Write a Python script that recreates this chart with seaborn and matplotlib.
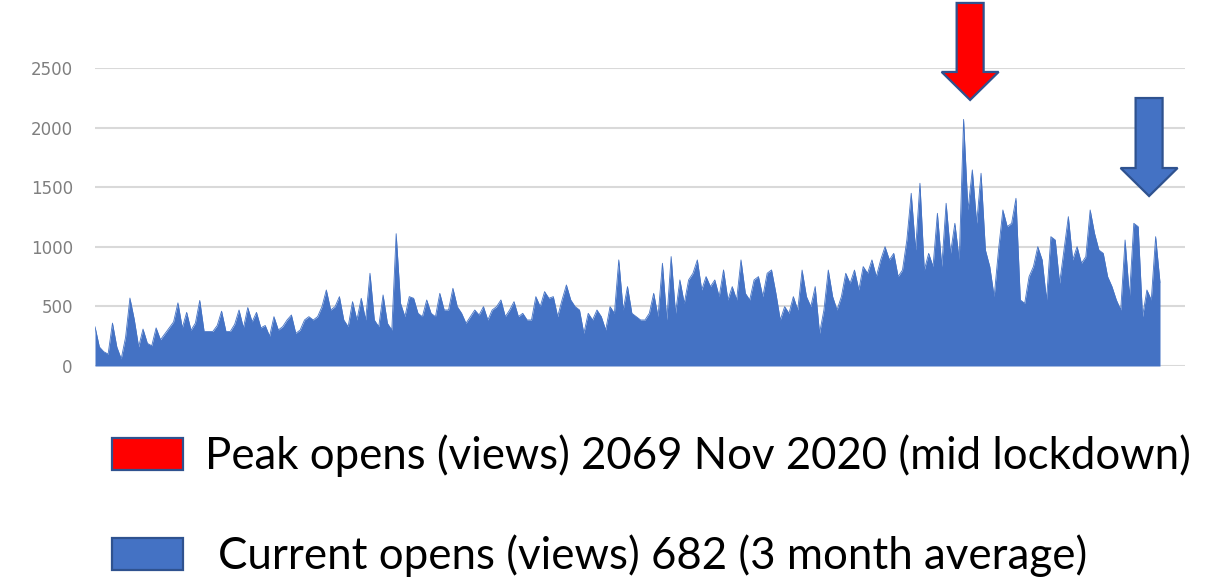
import numpy as np
import pandas as pd
import matplotlib
matplotlib.use("Agg")
import matplotlib.pyplot as plt
from matplotlib.patches import FancyArrow, Rectangle
import seaborn as sns

# daily opens (views), left to right
opens = [
    330, 160, 120, 100, 360, 160, 60, 240, 570, 390, 160, 310, 190, 170, 320, 220,
    270, 320, 370, 530, 320, 450, 300, 360, 550, 290, 290, 290, 340, 460, 290, 290,
    350, 470, 320, 490, 370, 450, 320, 340, 250,
    414, 302, 330, 386, 428, 274, 302, 386, 414, 386, 414, 498, 638, 470, 498, 582,
    386, 330, 540, 386, 568, 386, 778, 386, 330, 596, 358, 302, 1110, 526, 414, 582,
    568, 442, 414, 554, 442, 414, 610, 470,
    470, 652, 498, 442, 358, 414, 470, 428, 498, 386, 470, 498, 554, 414, 470, 540,
    414, 442, 386, 386, 582, 498, 624, 568, 582, 414, 554, 680, 554, 498, 470, 274,
    442, 386, 470, 414, 302, 498,
    442, 890, 470, 666, 442, 414, 386, 386, 442, 610, 414, 862, 386, 918, 442, 722,
    526, 722, 778, 890, 638, 750, 666, 722, 582, 806, 554, 666, 554, 890, 610, 554,
    722, 750, 582, 778, 806, 610, 386, 498, 442, 582, 470,
    805, 582, 498, 666, 274, 470, 805, 582, 470, 582, 778, 694, 805, 638, 834, 778,
    890, 750, 890, 1001, 890, 945, 750, 805, 1057, 1449, 973, 1533, 805, 945, 834, 1281,
    834, 1365, 945, 1197, 890, 2069, 1309, 1645, 1197,
    1617, 973, 834, 582, 973, 1309, 1169, 1197, 1407, 554, 526, 750, 834, 1001, 890, 554,
    1085, 1057, 694, 973, 1253, 890, 1001, 862, 917, 1309, 1113, 973, 945, 750, 666, 554,
    470, 1057, 582, 1197, 1169, 414, 638, 554, 1085, 700,
]
y_ticks = [0, 500, 1000, 1500, 2000, 2500]
legend_labels = ["Peak opens (views) 2069 Nov 2020 (mid lockdown)",
                 "Current opens (views) 682 (3 month average)"]

blue = "#4472C4"
red = "#FF0000"
edge = "#2F528F"

df = pd.DataFrame({"day": np.arange(len(opens)), "opens": opens})

sns.set_style("white")
plt.rcParams["font.family"] = ["DejaVu Sans"]

fig = plt.figure(figsize=(12.09, 5.80), dpi=100)
W, H = 1209, 580
ax = fig.add_axes([95 / W, 1 - 366 / H, (1185 - 95) / W, (366 - 68) / H])

ax.fill_between(df["day"], df["opens"], color=blue, lw=0, zorder=2)
sns.lineplot(data=df, x="day", y="opens", ax=ax, color=blue, lw=0.6, zorder=3)

n = len(opens)
ax.set_xlim(0, (n - 1) * (1185 - 95) / (1160 - 95))
ax.set_ylim(0, 2500)
ax.set_yticks(y_ticks)
ax.set_yticklabels([str(t) for t in y_ticks], color="#7F7F7F", fontsize=12)
ax.tick_params(axis="y", length=0, pad=16)
ax.set_xticks([])
ax.set_xlabel("")
ax.set_ylabel("")
ax.grid(axis="y", color="#D9D9D9", lw=1.5, zorder=0)
for s in ax.spines.values():
    s.set_visible(False)

# arrows (data coords, x in day units, y in views)
xpx = (1160 - 95) / (n - 1)      # pixels per day
ypx = 298 / 2500                 # pixels per view
peak_i = int(np.argmax(opens))
for x_tip, y_tip, top_px, col in [(peak_i + 1.5, 2232, 97, red),
                                   (n - 3.5, 1426, 98, blue)]:
    length = top_px / ypx
    arr = FancyArrow(x_tip, y_tip + length, 0, -length,
                     width=27 / xpx, head_width=57 / xpx, head_length=28 / ypx,
                     length_includes_head=True, fc=col, ec=edge, lw=1.6,
                     clip_on=False, zorder=5)
    ax.add_patch(arr)

# legend-style notes under the chart, font size fitted to the reference width
renderer = fig.canvas.get_renderer()
for (y0, col), label, x0, x1 in zip([(438, red), (538, blue)], legend_labels,
                                    [205, 218], [1188, 1085]):
    fig.patches.append(Rectangle((112 / W, 1 - (y0 + 32) / H), 71 / W, 32 / H,
                                 transform=fig.transFigure, fc=col, ec=edge, lw=1.6))
    t = fig.text(x0 / W, 1 - (y0 + 18) / H, label, fontsize=30, family="Lato",
                 va="center", ha="left", color="black")
    w = t.get_window_extent(renderer).width
    t.set_fontsize(30 * (x1 - x0) / w)

fig.savefig("out.png", dpi=100)
